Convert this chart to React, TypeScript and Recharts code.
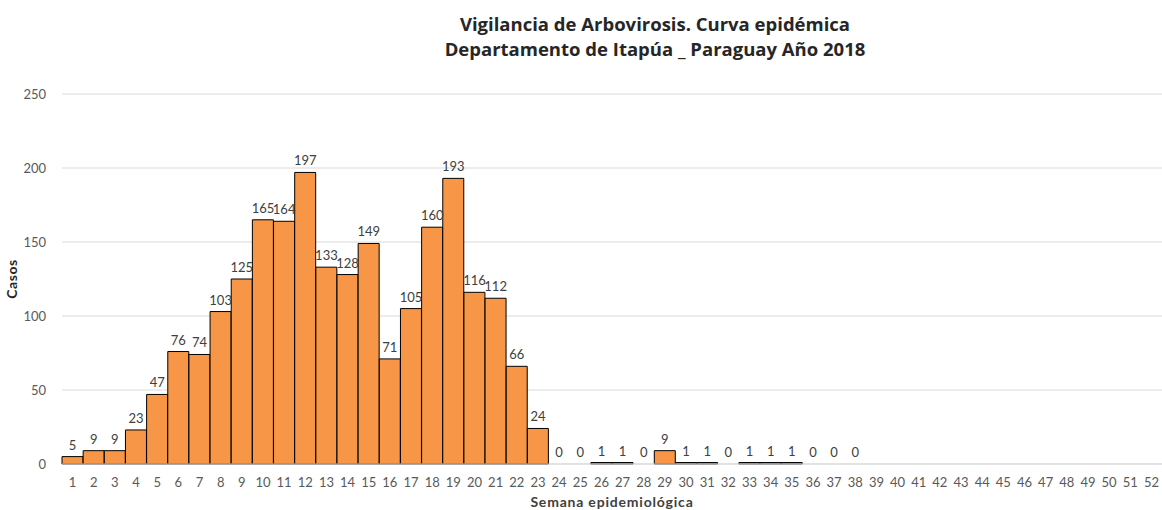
import { ComposedChart, Bar, Line, XAxis, YAxis, CartesianGrid } from 'recharts';

const weeks = Array.from({ length: 52 }, (_, i) => String(i + 1));

// casos por semana epidemiológica (semanas 39-52 sin dato)
const casos: (number | null)[] = [
  5, 9, 9, 23, 47, 76, 74, 103, 125, 165, 164, 197, 133, 128, 149, 71, 105, 160, 193, 116,
  112, 66, 24, 0, 0, 1, 1, 0, 9, 1, 1, 0, 1, 1, 1, 0, 0, 0,
  null, null, null, null, null, null, null, null, null, null, null, null, null, null,
];

const yTicks = [0, 50, 100, 150, 200, 250];

const titleLines = [
  'Vigilancia de Arbovirosis. Curva epidémica',
  'Departamento de Itapúa _ Paraguay Año 2018',
];

const data = weeks.map((w, i) => ({ semana: w, casos: casos[i] }));

const FONT = 'Lato, "Open Sans", sans-serif';

// bar labels drawn from an invisible line so that zero weeks get their "0" too
const renderValue = (props: any) => {
  const { x, y, value, index } = props;
  if (value === null || value === undefined || y == null) return null;
  return (
    <text
      key={`v-${index}`}
      x={x}
      y={Number(y) - 7}
      textAnchor="middle"
      fontSize={13}
      fill="#404040"
      fontFamily={FONT}
    >
      {value}
    </text>
  );
};

export default function App() {
  return (
    <div style={{ position: 'absolute', left: 0, top: 0, width: 1162, height: 510, background: '#fff', fontFamily: FONT }}>
      <div
        style={{
          position: 'absolute',
          left: 150,
          width: 1010,
          top: 11,
          textAlign: 'center',
          fontSize: 18.5,
          fontWeight: 700,
          lineHeight: '25px',
          color: '#262626',
          fontFamily: '"Open Sans", sans-serif',
        }}
      >
        {titleLines.map((t) => (
          <div key={t}>{t}</div>
        ))}
      </div>
      <ComposedChart
        width={1162}
        height={510}
        data={data}
        margin={{ top: 94, right: 0, left: 0, bottom: 16 }}
        barCategoryGap={0}
        barGap={0}
      >
        <CartesianGrid vertical={false} stroke="#d9d9d9" />
        <XAxis
          dataKey="semana"
          interval={0}
          height={30}
          tickLine={false}
          axisLine={{ stroke: '#d9d9d9' }}
          tick={{ fontSize: 13, fill: '#595959', fontFamily: FONT }}
          tickMargin={8}
          label={{
            value: 'Semana epidemiológica',
            position: 'insideBottom',
            offset: -13,
            style: { fontSize: 14, fontWeight: 700, fill: '#404040', fontFamily: FONT, letterSpacing: 0.8 },
          }}
        />
        <YAxis
          width={62}
          domain={[0, 250]}
          ticks={yTicks}
          tickLine={false}
          axisLine={false}
          tick={{ fontSize: 13, fill: '#595959', fontFamily: FONT }}
          tickMargin={10}
          label={{
            value: 'Casos',
            angle: -90,
            position: 'insideLeft',
            offset: 12,
            style: { fontSize: 14, fontWeight: 700, fill: '#262626', fontFamily: FONT, textAnchor: 'middle', letterSpacing: 0.6 },
          }}
        />
        <Bar dataKey="casos" fill="#F79646" stroke="#000" strokeWidth={1} isAnimationActive={false} />
        <Line
          dataKey="casos"
          stroke="none"
          dot={false}
          activeDot={false}
          legendType="none"
          label={renderValue}
          isAnimationActive={false}
        />
      </ComposedChart>
    </div>
  );
}
